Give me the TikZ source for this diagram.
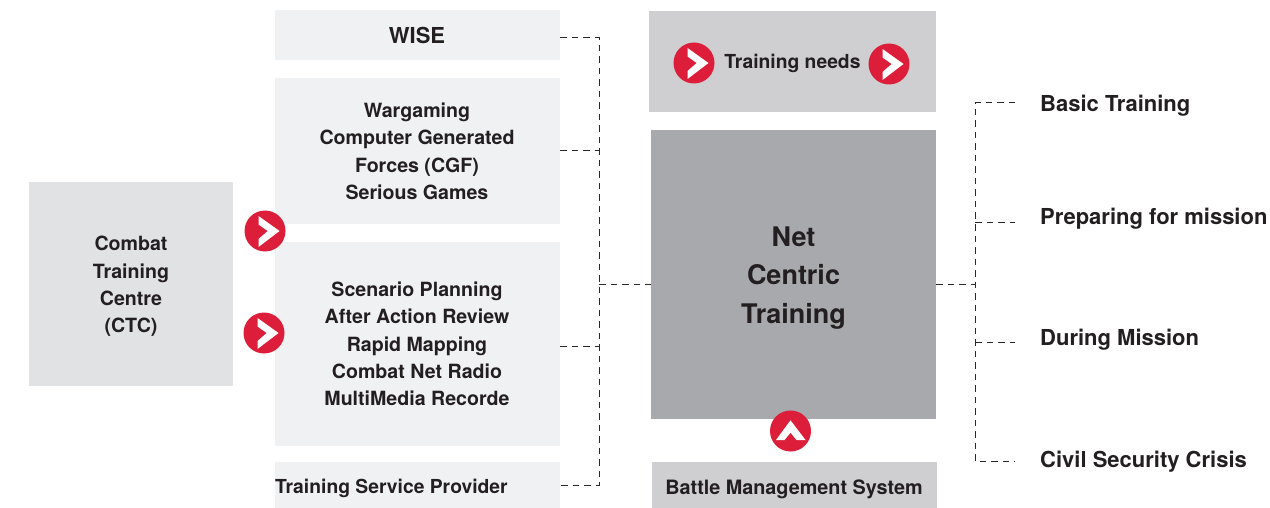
\documentclass[tikz,border=0pt]{standalone}
\usepackage{fontspec}
\setmainfont{TeX Gyre Heros}
\definecolor{lightbox}{HTML}{F0F1F3}
\definecolor{midbox}{HTML}{E1E2E4}
\definecolor{needbox}{HTML}{CFCFD1}
\definecolor{darkbox}{HTML}{A7A9AC}
\definecolor{redmark}{HTML}{DC1E3A}
\definecolor{ink}{HTML}{231F20}
\definecolor{dashink}{HTML}{2A2728}
\newcommand{\labelfont}{\fontsize{19.6}{27.3}\selectfont\bfseries}
\newcommand{\smallfont}{\fontsize{19.3}{27.3}\selectfont\bfseries}
\newcommand{\bigfont}{\fontsize{22}{27.3}\selectfont\bfseries}
\tikzset{
  x=1pt,y=-1pt,
  box/.style={anchor=north west,inner sep=0pt,outer sep=0pt,text=ink,align=center,font=\labelfont},
  txt/.style={text=ink,font=\labelfont,align=center,inner sep=0pt},
  lbl/.style={anchor=west,inner sep=0pt,text=ink,font=\bigfont},
  dashline/.style={draw=dashink,line width=1pt,dash pattern=on 6.5pt off 5pt},
  redcircle/.style={circle,fill=redmark,minimum size=41pt,inner sep=0pt},
  pics/rightmark/.style={code={
    \node[redcircle] (-c) at (0,0) {};
    \fill[white] (-6.5,-15) -- (14.5,0) -- (-6.5,16) -- (-6.5,8) -- (2.7,0) -- (-6.5,-6.5) -- cycle;
  }},
  pics/upmark/.style={code={
    \node[redcircle] (-c) at (0,0) {};
    \fill[white] (-14.5,9) -- (0,-10.7) -- (15,9) -- (6,9) -- (0,1.7) -- (-6,9) -- cycle;
  }}
}
\begin{document}
\begin{tikzpicture}
\useasboundingbox (0,0) rectangle (1270,508);
% boxes
\node[box,fill=lightbox,minimum width=285pt,minimum height=50pt] (wise) at (275,10) {};
\node[txt,font=\bigfont] (wiset) at (417,35.5) {WISE};
\node[box,fill=lightbox,minimum width=285pt,minimum height=146pt] (war) at (275,78) {};
\node[txt] (wart) at (417,151.2) {Wargaming\\Computer Generated\\Forces (CGF)\\Serious Games};
\node[box,fill=lightbox,minimum width=285pt,minimum height=204pt] (scen) at (275,242) {};
\node[txt] (scent) at (417,344) {Scenario Planning\\After Action Review\\Rapid Mapping\\Combat Net Radio\\MultiMedia Recorde};
\node[box,fill=lightbox,minimum width=285pt,minimum height=46pt] (tsp) at (275,462) {};
\node[txt,font=\smallfont,anchor=west] (tspt) at (275,488) {Training Service Provider};
\node[box,fill=midbox,minimum width=204pt,minimum height=204pt] (ctc) at (29,182) {};
\node[txt] (ctct) at (131,286.4) {Combat\\Training\\Centre\\(CTC)};
\node[box,fill=needbox,minimum width=287pt,minimum height=101pt] (need) at (649,11) {};
\node[txt,font=\smallfont] (needt) at (792.5,63) {Training needs};
\node[box,fill=darkbox,minimum width=285pt,minimum height=289pt] (net) at (651,130) {};
\node[txt,font=\fontsize{27}{38.5}\selectfont\bfseries] (nett) at (793.5,278) {Net\\Centric\\Training};
\node[box,fill=needbox,minimum width=285pt,minimum height=46pt] (bms) at (652,462) {};
\node[txt,font=\fontsize{19.8}{27}\selectfont\bfseries] (bmst) at (794,489) {Battle Management System};
% right labels
\node[lbl] (basic) at (1040,106) {Basic Training};
\node[lbl] (prep) at (1040,219) {Preparing for mission};
\node[lbl] (during) at (1040,340) {During Mission};
\node[lbl] (civil) at (1040,462) {Civil Security Crisis};
% coordinates for connectors
\coordinate (wisep) at (560,38);
\coordinate (warp) at (560,151);
\coordinate (scenp) at (560,346);
\coordinate (tspp) at (560,485);
\coordinate (busT) at (599,38);
\coordinate (busB) at (599,485);
\coordinate (netL) at (651,284);
\coordinate (busM) at (599,284);
\coordinate (netR) at (936,284);
\coordinate (rbusM) at (975,284);
\coordinate (r1) at (975,103);
\coordinate (r2) at (975,222);
\coordinate (r3) at (975,342);
\coordinate (r4) at (975,461);
\coordinate (e1) at (1015,103);
\coordinate (e2) at (1015,222);
\coordinate (e3) at (1015,342);
\coordinate (e4) at (1015,461);
% connectors
\draw[dashline] (wisep) -- (busT) -- (busB) -- (tspp);
\draw[dashline] (warp) -- (warp -| busT);
\draw[dashline] (scenp) -- (scenp -| busT);
\draw[dashline] (busM) -- (netL);
\draw[dashline] (netR) -- (rbusM);
\draw[dashline] (e1) -- (r1) -- (r4) -- (e4);
\draw[dashline] (r2) -- (e2);
\draw[dashline] (r3) -- (e3);
% red marks
\pic (m1) at (694,63) {rightmark};
\pic (m2) at (889,64) {rightmark};
\pic (m3) at (265,231) {rightmark};
\pic (m4) at (264,333) {rightmark};
\pic (m5) at (790.5,431) {upmark};
\end{tikzpicture}
\end{document}
